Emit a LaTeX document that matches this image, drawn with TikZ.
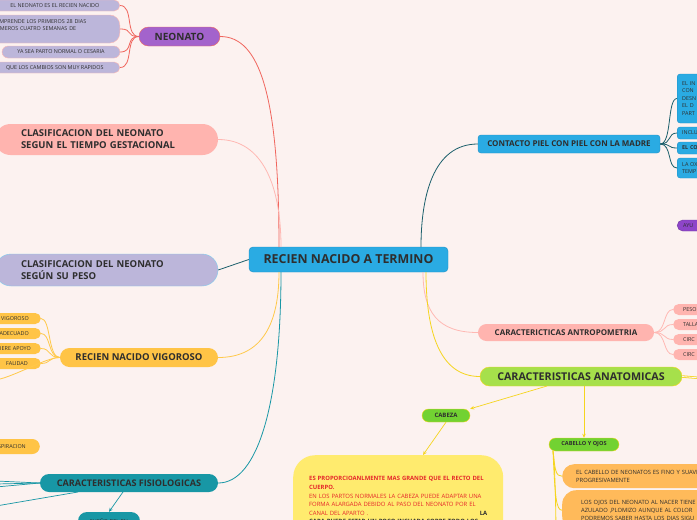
\documentclass[tikz,border=0pt]{standalone}
\usepackage{fontspec}
\setmainfont{Open Sans}
\usetikzlibrary{arrows.meta}

\definecolor{bgcol}{HTML}{FCF2F0}
\definecolor{ink}{HTML}{2E2E2E}
\definecolor{skyblue}{HTML}{2AABE3}
\definecolor{skyline}{HTML}{1E8FC4}
\definecolor{violet}{HTML}{A363CC}
\definecolor{lavender}{HTML}{BCB6DA}
\definecolor{rosebox}{HTML}{FFB4AF}
\definecolor{amber}{HTML}{FFC446}
\definecolor{teal}{HTML}{1897A5}
\definecolor{lime}{HTML}{A6E04B}
\definecolor{leaf}{HTML}{72D232}
\definecolor{lemon}{HTML}{FFEB6E}
\definecolor{peach}{HTML}{FFBA5A}
\definecolor{redtxt}{HTML}{E5262A}
\definecolor{redline}{HTML}{F0665E}
\definecolor{roseline}{HTML}{FFB8B3}
\definecolor{darkteal}{HTML}{1B5F6B}
\definecolor{goldline}{HTML}{F5D51E}
\definecolor{amberline}{HTML}{FFC94A}
\definecolor{plum}{HTML}{8E45C9}

\begin{document}
\begin{tikzpicture}[x=1pt,y=-1pt,
  every node/.style={inner sep=0pt,text=ink},
  tiny/.style={font=\fontsize{5.4}{7.5}\selectfont},
  head/.style={font=\bfseries\fontsize{9.5}{12}\selectfont},
  link/.style={line width=0.8pt},
  arr/.style={-{Stealth[length=4pt,width=3.5pt]},line width=0.7pt}]
\useasboundingbox (0,0) rectangle (697,520);
\fill[bgcol] (0,0) rectangle (697,520);
\clip (0,0) rectangle (697,520);

% root
\node[fill=skyblue,draw=skyline,rounded corners=4,minimum width=199,minimum height=25,
  font=\bfseries\fontsize{12.4}{14}\selectfont] (root) at (348.5,259.5) {RECIEN NACIDO A TERMINO};
\coordinate (rootA) at (279,247);
\coordinate (rootB) at (281,247);
\coordinate (rootC) at (421,247);
\coordinate (rootD) at (279,272);
\coordinate (rootE) at (281,272);
\coordinate (rootF) at (423,272);
\coordinate (rootG) at (426,272);

% neonato
\node[fill=violet,draw=redline,rounded corners=9.5,minimum width=81,minimum height=19,font=\bfseries\fontsize{10}{12}\selectfont] (neonato) at (179.5,36.5) {NEONATO};
\node[tiny,fill=lavender,draw=roseline,rounded corners=5.5,minimum width=130,minimum height=11,anchor=east] (neo1) at (120,5.5) {EL NEONATO ES EL RECIEN NACIDO};
\node[tiny,fill=lavender,draw=roseline,rounded corners=10,minimum height=28,anchor=east,
  text width=120,inner xsep=8,align=left] (neo2) at (120,29) {COMPRENDE LOS PRIMEROS 28 DIAS\\PRIMEROS CUATRO SEMANAS DE\\\mbox{}};
\node[tiny,fill=lavender,draw=roseline,rounded corners=6,minimum width=118,minimum height=12] (neo3) at (61,52) {YA SEA PARTO NORMAL O CESARIA};
\node[tiny,fill=lavender,draw=roseline,rounded corners=5.5,minimum width=130,minimum height=11,anchor=east] (neo4) at (120,67.5) {QUE LOS CAMBIOS SON MUY RAPIDOS};
\foreach \k in {neo1,neo2,neo3,neo4}
  \draw[link,redline] (neonato.west) .. controls +(-14,0) and +(14,0) .. (\k.east);
\draw[link,redline] (neonato.east) .. controls +(40,0) and +(0,-150) .. (rootA);

% clasificaciones
\node[fill=rosebox,rounded corners=15.5,minimum width=223,minimum height=31,text width=171,align=left,head] (gest) at (106.5,139.5)
  {CLASIFICACION DEL NEONATO\\SEGUN EL TIEMPO GESTACIONAL};
\draw[link,roseline] (gest.east) .. controls +(45,0) and +(0,-60) .. (rootB);
\node[fill=lavender,draw=skyblue!60,rounded corners=16,minimum width=223,minimum height=32,text width=171,align=left,head] (peso) at (106.5,270)
  {CLASIFICACION DEL NEONATO\\SEGÚN SU PESO};
\draw[link,darkteal] (peso.east) -- (root.west);

% vigoroso
\node[fill=amber,rounded corners=9.5,minimum width=158,minimum height=19,head] (vig) at (139,357.5) {RECIEN NACIDO VIGOROSO};
\node[tiny,fill=amber,rounded corners=5.5,minimum height=11,anchor=east,text width=60,inner xsep=12,align=right] (vig1) at (41,318.5) {VIGOROSO};
\node[tiny,fill=amber,rounded corners=5.5,minimum height=11,anchor=east,text width=60,inner xsep=12,align=right] (vig2) at (41,333.5) {ADECUADO};
\node[tiny,fill=amber,rounded corners=5.5,minimum height=11,anchor=east,text width=60,inner xsep=10,align=right] (vig3) at (41,348.5) {REQUIERE APOYO};
\node[tiny,fill=amber,rounded corners=5.5,minimum height=11,anchor=east,text width=60,inner xsep=13,align=right] (vig4) at (41,363.5) {FALIDAD};
\coordinate (vigout) at (-4,380);
\foreach \k in {vig1,vig2,vig3,vig4}
  \draw[link,amberline] (vig.west) .. controls +(-12,0) and +(10,0) .. (\k.east);
\draw[link,amberline] (vig.west) .. controls +(-14,0) and +(20,-4) .. (vigout);
\draw[link,amberline] (vig.east) .. controls +(45,0) and +(0,50) .. (rootD);
\node[tiny,fill=amber,rounded corners=7.5,minimum height=15,anchor=east,text width=60,inner xsep=14,align=right] (resp) at (40,446.5) {RESPIRACION};

% fisiologicas
\node[fill=teal,rounded corners=9,minimum width=178,minimum height=18,font=\bfseries\fontsize{9.1}{11}\selectfont] (fis) at (129,483) {CARACTERISTICAS FISIOLOGICAS};
\draw[link,teal] (fis.east) .. controls +(40,0) and +(0,130) .. (rootE);
\coordinate (fisout1) at (-4,481);
\coordinate (fisout2) at (-4,484);
\coordinate (fisout3) at (-4,487);
\coordinate (fisout4) at (-4,506);
\foreach \k in {fisout1,fisout2,fisout3}
  \draw[line width=0.7pt,teal] (fis.west) -- (\k);
\draw[line width=0.7pt,teal] (78,492) -- (fisout4);
\node[tiny,fill=teal,rounded corners=9,minimum width=62,minimum height=18] (sueno) at (109,521) {SUEÑO DEL RN};
\draw[arr,teal] (123,492) -- (sueno.north);

% contacto piel con piel
\node[fill=skyblue,draw=skyline,rounded corners=3,minimum width=182,minimum height=18,font=\bfseries\fontsize{8}{10}\selectfont] (piel) at (569,144) {CONTACTO PIEL CON PIEL CON LA MADRE};
\draw[link,darkteal] (piel.west) .. controls +(-45,0) and +(0,-50) .. (rootC);
\node[tiny,fill=skyblue,draw=skyline,rounded corners=3,anchor=west,minimum height=49,text width=60,inner xsep=5,align=left] (piel1) at (677,98.5) {EL IN\\CON\\DESN\\EL D\\PART};
\node[tiny,fill=skyblue,draw=skyline,rounded corners=3,anchor=west,minimum height=12,text width=60,inner xsep=5,align=left] (piel2) at (677,133) {INCLU};
\node[fill=skyblue,draw=skyline,rounded corners=3,anchor=west,minimum height=12,text width=60,inner xsep=5,align=left,font=\bfseries\fontsize{5.4}{7}\selectfont] (piel3) at (677,148) {EL CO};
\node[tiny,fill=skyblue,draw=skyline,rounded corners=3,anchor=west,minimum height=20,text width=60,inner xsep=5,align=left] (piel4) at (677,168) {LA OX\\TEMP};
\foreach \k in {piel1,piel2,piel3,piel4}
  \draw[link,darkteal] (piel.east) .. controls +(12,0) and +(-10,0) .. (\k.west);
\node[tiny,fill=plum,draw=plum!80!black,rounded corners=5.5,anchor=west,minimum height=11,text width=60,inner xsep=6,align=left] (ayu) at (677,225.5) {AYU};

% antropometria
\node[fill=rosebox,rounded corners=8.5,minimum width=176,minimum height=17,font=\bfseries\fontsize{8}{10}\selectfont] (antro) at (566,332.5) {CARACTERICTICAS ANTROPOMETRIA};
\draw[link,roseline] (antro.west) .. controls +(-40,0) and +(0,40) .. (rootF);
\node[tiny,fill=rosebox,rounded corners=5.5,anchor=west,minimum height=11,text width=60,inner xsep=10,align=left] (antro1) at (673,309.5) {PESO};
\node[tiny,fill=rosebox,rounded corners=5.5,anchor=west,minimum height=11,text width=60,inner xsep=10,align=left] (antro2) at (673,324.5) {TALLA};
\node[tiny,fill=rosebox,rounded corners=5.5,anchor=west,minimum height=11,text width=60,inner xsep=10,align=left] (antro3) at (673,339.5) {CIRC};
\node[tiny,fill=rosebox,rounded corners=5.5,anchor=west,minimum height=11,text width=60,inner xsep=10,align=left] (antro4) at (673,354.5) {CIRC};
\foreach \k in {antro1,antro2,antro3,antro4}
  \draw[link,roseline] (antro.east) .. controls +(12,0) and +(-10,0) .. (\k.west);

% anatomicas
\node[fill=lime,draw=goldline,rounded corners=9.5,minimum width=202,minimum height=19,font=\bfseries\fontsize{10.7}{12}\selectfont] (anat) at (581,376.5) {CARACTERISTICAS ANATOMICAS};
\draw[link,goldline] (anat.west) .. controls +(-40,0) and +(0,60) .. (rootG);
\coordinate (anatout) at (700,378);
\draw[line width=2.4pt,goldline] (anat.east) -- (anatout);
\draw[line width=0.8pt,bgcol] (anat.east) -- (anatout);

\node[fill=leaf,draw=goldline,rounded corners=6.5,minimum width=48,minimum height=13,font=\bfseries\fontsize{6}{7}\selectfont] (cabeza) at (446,415.5) {CABEZA};
\node[fill=leaf,draw=goldline,rounded corners=6.5,minimum width=70,minimum height=13,font=\bfseries\fontsize{5.6}{7}\selectfont] (cabello) at (584,444.5) {CABELLO Y OJOS};
\draw[arr,goldline] (547,386) -- (cabeza.north east);
\draw[arr,goldline] (cabello.north |- anat.south) -- (cabello.north);

\node[fill=lemon,rounded corners=22,anchor=north west,minimum height=100,text width=178,inner xsep=16,inner ysep=5,align=left,
  font=\fontsize{5.9}{8.6}\selectfont] (cabtext) at (293,455)
  {{\color{redtxt}\bfseries ES PROPORCIOANLMENTE MAS GRANDE QUE EL RECTO DEL\\CUERPO.}\\
   {\color{redtxt}EN LOS PARTOS NORMALES LA CABEZA PUEDE ADAPTAR UNA\\FORMA ALARGADA DEBIDO AL PASO DEL NEONATO POR EL\\CANAL DEL APARTO .}\hfill{\bfseries LA}\\
   {\bfseries CARA PUEDE ESTAR UN POCO INCHADA SOBRE TODO LOS\\OJOS Y~ LOS LABIOS QUE POO A POCO DISMINUIRA SU}};
\draw[arr,goldline] (cabeza.south) -- (423,455);

\node[fill=peach,rounded corners=12,anchor=north west,minimum height=24,text width=160,inner xsep=14,align=left,
  font=\fontsize{5.8}{8}\selectfont] (pelo) at (562,464)
  {EL CABELLO DE NEONATOS ES FINO Y SUAVE\\PROGRESIVAMENTE};
\node[fill=peach,rounded corners=14,anchor=north west,minimum height=40,text width=160,inner xsep=19,inner ysep=4,align=left,
  font=\fontsize{5.8}{8}\selectfont] (ojos) at (562,490)
  {LOS OJOS DEL NEONATO AL NACER TIENE\\AZULADO ,PLOMIZO AUNQUE AL COLOR\\PODREMOS SABER HASTA LOS DIAS SIGU};
\coordinate (cabout) at (556,530);
\draw[link,goldline] (553,451) .. controls +(2,10) and +(0,-10) .. (cabout);
\draw[link,goldline] (553,451) .. controls +(2,20) and +(-6,0) .. (pelo.west);
\draw[link,goldline] (553,451) .. controls +(2,45) and +(-6,0) .. (ojos.west);
\end{tikzpicture}
\end{document}
